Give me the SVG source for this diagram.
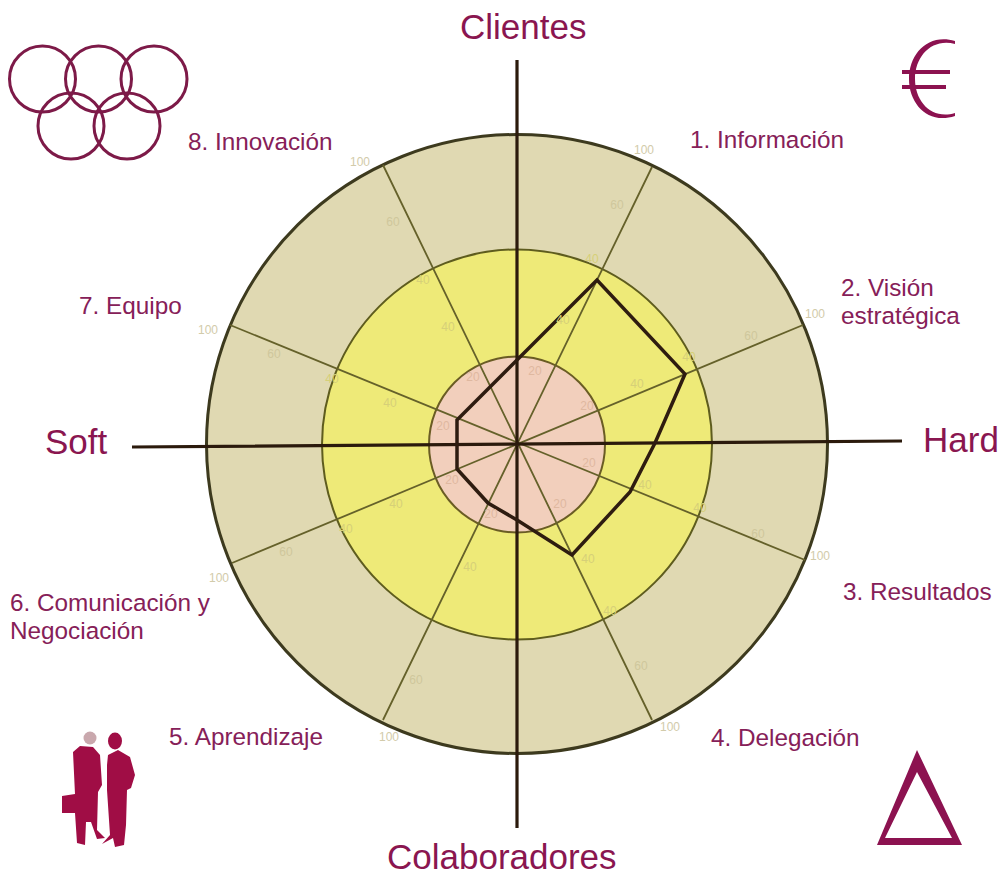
<svg xmlns="http://www.w3.org/2000/svg" width="1002" height="875" viewBox="0 0 1002 875">
<style>
.l{font-family:"Liberation Sans",Arial,sans-serif;font-size:24.300px;fill:#862058}
.b{font-family:"Liberation Sans",Arial,sans-serif;font-size:35px;fill:#8a1650}
.t{font-family:"Liberation Sans",Arial,sans-serif;font-size:12px;text-anchor:middle;fill:#d2cbaa}
.o{fill:#cfc79c}
.m{fill:#d6d078}
.n{fill:#dfb8a0}
.sp{stroke:#65612a;stroke-width:1.800;fill:none}
.ic{fill:none;stroke:#7d1a48;stroke-width:3}
</style>
<rect width="1002" height="875" fill="#fff"/>
<g id="chart">
<ellipse cx="517" cy="444" rx="310.500" ry="309.500" fill="#e0d9b2" stroke="#3d3a1e" stroke-width="3"/>
<circle cx="517" cy="444.500" r="195" fill="#eeea78" stroke="#5e5c1e" stroke-width="2"/>
<circle cx="517" cy="444.500" r="88" fill="#f2cfbc" stroke="#6a5c24" stroke-width="2"/>
</g>
<g id="connectors">
<path class="sp" d="M652 167L383 720M803 325L232 563M805 560L230 325M652 720L383 165"/>
<path d="M517 60V828M132 447L902 441" stroke="#2b1a0c" stroke-width="3.200" fill="none"/>
<path d="M517 360L597 280L685 374L655 443L630 492L572 555L517 520L488 503L457 469V420Z" fill="none" stroke="#2e1c10" stroke-width="3.500"/>
</g>
<g id="ticks">
<text class="t" x="644" y="154">100</text><text class="t o" x="617" y="209">60</text><text class="t m" x="592" y="263">40</text><text class="t m" x="563" y="324">40</text><text class="t n" x="535" y="375">20</text>
<text class="t" x="815" y="318">100</text><text class="t o" x="751" y="340">60</text><text class="t m" x="689" y="361">40</text><text class="t m" x="637" y="388">40</text><text class="t n" x="587" y="410">20</text>
<text class="t" x="820" y="560">100</text><text class="t o" x="758" y="538">60</text><text class="t m" x="700" y="512">40</text><text class="t m" x="645" y="489">40</text><text class="t n" x="589" y="467">20</text>
<text class="t" x="670" y="731">100</text><text class="t o" x="641" y="670">60</text><text class="t m" x="610" y="615">40</text><text class="t m" x="588" y="563">40</text><text class="t n" x="560" y="508">20</text>
<text class="t" x="389" y="741">100</text><text class="t o" x="416" y="684">60</text><text class="t m" x="470" y="571">40</text><text class="t n" x="491" y="518">20</text>
<text class="t" x="219" y="582">100</text><text class="t o" x="286" y="556">60</text><text class="t m" x="346" y="533">40</text><text class="t m" x="396" y="508">40</text><text class="t n" x="452" y="484">20</text>
<text class="t" x="208" y="334">100</text><text class="t o" x="274" y="358">60</text><text class="t m" x="332" y="383">40</text><text class="t m" x="390" y="407">40</text><text class="t n" x="443" y="430">20</text>
<text class="t" x="360" y="166">100</text><text class="t o" x="393" y="226">60</text><text class="t m" x="423" y="284">40</text><text class="t m" x="448" y="331">40</text><text class="t n" x="473" y="381">20</text>
</g>
<g id="labels">
<text class="b" x="460" y="39">Clientes</text>
<text class="b" x="387" y="869">Colaboradores</text>
<text class="b" x="45" y="454">Soft</text>
<text class="b" x="923" y="452">Hard</text>
<text class="l" x="690" y="148">1. Información</text>
<text class="l" x="841" y="296">2. Visión</text>
<text class="l" x="841" y="324">estratégica</text>
<text class="l" x="843" y="600">3. Resultados</text>
<text class="l" x="711" y="746">4. Delegación</text>
<text class="l" x="169" y="745">5. Aprendizaje</text>
<text class="l" x="10" y="611">6. Comunicación y</text>
<text class="l" x="10" y="639">Negociación</text>
<text class="l" x="79" y="314">7. Equipo</text>
<text class="l" x="188" y="150">8. Innovación</text>
</g>
<g id="rings" class="ic">
<circle cx="42.500" cy="79" r="33"/><circle cx="98.500" cy="79" r="33"/><circle cx="154" cy="79" r="33"/><circle cx="71" cy="126" r="33"/><circle cx="127" cy="126" r="33"/>
</g>
<g id="euro" fill="#8c1250">
<path d="M955 41C928 33 909 54 909 79C909 104 928 125 955 116L955 113C932 120 915 102 915 79C915 56 932 38 955 44Z"/>
<path d="M902 70H950V74H902ZM902 85H946V89H902Z"/>
</g>
<g id="people">
<circle cx="90" cy="738" r="6.500" fill="#c9a8ad"/>
<path fill="#a00d45" d="M80 746L93 747L100 755L102 785L98 792L97 830L105 838L97 839L91 822L86 822L85 845L77 843L75 813L62 813L62 796L75 794L73 752Z"/>
<ellipse cx="115" cy="741" rx="7" ry="8.500" fill="#a00d45"/>
<path fill="#a00d45" d="M108 755L118 750L130 757L135 775L131 788L127 790L126 825L124 845L115 847L113 838L102 844L110 835L107 790L107 765Z"/>
</g>
<path id="triangle" fill="#8c1250" fill-rule="evenodd" d="M917 750L962 845H877ZM917 772L885 838H952Z"/>
</svg>
